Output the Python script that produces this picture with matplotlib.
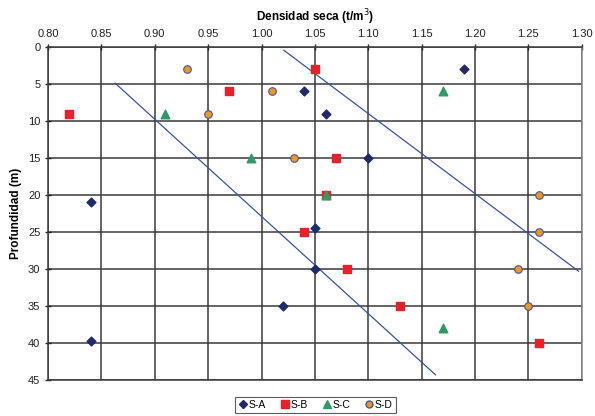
import matplotlib
matplotlib.use("Agg")
import matplotlib.pyplot as plt
from matplotlib.lines import Line2D

plt.rcParams['font.family'] = ['Liberation Sans', 'DejaVu Sans']

# Data
sa_x = [1.19, 1.04, 1.06, 1.10, 0.84, 1.05, 1.05, 1.02, 0.84]
sa_y = [3, 6, 9, 15, 21, 24.5, 30, 35, 39.7]
sb_x = [1.05, 0.97, 0.82, 1.07, 1.06, 1.04, 1.08, 1.13, 1.26]
sb_y = [3, 6, 9, 15, 20, 25, 30, 35, 40]
sc_x = [1.17, 0.91, 0.99, 1.06, 1.17]
sc_y = [6, 9, 15, 20, 38]
sd_x = [0.93, 1.01, 0.95, 1.03, 1.26, 1.26, 1.24, 1.25]
sd_y = [3, 6, 9, 15, 20, 25, 30, 35]
line1_x = [0.863, 1.163]
line1_y = [4.9, 44.3]
line2_x = [1.021, 1.297]
line2_y = [0.45, 30.3]
x_ticks = [0.80, 0.85, 0.90, 0.95, 1.00, 1.05, 1.10, 1.15, 1.20, 1.25, 1.30]
y_ticks = [0, 5, 10, 15, 20, 25, 30, 35, 40, 45]

fig = plt.figure(figsize=(5.95, 4.16), dpi=100)
ax = fig.add_axes([0.0807, 0.0865, 0.897, 0.8005])

ax.plot(line1_x, line1_y, color='#3355AA', lw=0.9, zorder=3)
ax.plot(line2_x, line2_y, color='#3355AA', lw=0.9, zorder=3)

ax.scatter(sa_x, sa_y, marker='D', s=20, color='#1F2A6B', zorder=4, label='S-A')
ax.scatter(sb_x, sb_y, marker='s', s=34, color='#E8202A', zorder=4, label='S-B')
ax.scatter(sc_x, sc_y, marker='^', s=38, color='#2E9A63', zorder=4, label='S-C')
ax.scatter(sd_x, sd_y, marker='o', s=30, facecolor='#F7941D', edgecolor='#3A5BA8', linewidth=0.8, zorder=4, label='S-D')

ax.set_xlim(0.80, 1.30)
ax.set_ylim(45, 0)
ax.set_xticks(x_ticks)
ax.set_xticklabels([f"{v:.2f}" for v in x_ticks])
ax.set_yticks(y_ticks)
ax.xaxis.tick_top()
ax.xaxis.set_label_position('top')
ax.grid(True, color='#3a3a3a', lw=1.1)
ax.set_axisbelow(True)
ax.tick_params(axis='both', labelsize=8, colors='#222222', length=4, direction='inout', width=1)
for s in ax.spines.values():
    s.set_color('#3a3a3a')
    s.set_linewidth(1.1)
ax.spines['right'].set_color('#888888')

ax.set_xlabel('Densidad seca (t/m$^3$)', fontsize=8.5, fontweight='bold', labelpad=6)
ax.set_ylabel('Profundidad (m)', fontsize=8.5, fontweight='bold', labelpad=4)

handles = [
    Line2D([], [], marker='D', color='#1F2A6B', ls='', ms=4.5),
    Line2D([], [], marker='s', color='#E8202A', ls='', ms=5.5),
    Line2D([], [], marker='^', color='#2E9A63', ls='', ms=6),
    Line2D([], [], marker='o', markerfacecolor='#F7941D', markeredgecolor='#3A5BA8', ls='', ms=5),
]
leg = fig.legend(handles, ['S-A', 'S-B', 'S-C', 'S-D'], loc='center', bbox_to_anchor=(0.53, 0.0265),
                 ncol=4, fontsize=7.5, frameon=True, fancybox=False, handletextpad=0.05,
                 columnspacing=1.3, borderpad=0.3, handlelength=1.0)
leg.get_frame().set_edgecolor('#333333')
leg.get_frame().set_linewidth(0.8)

fig.savefig('out.png', dpi=100)
